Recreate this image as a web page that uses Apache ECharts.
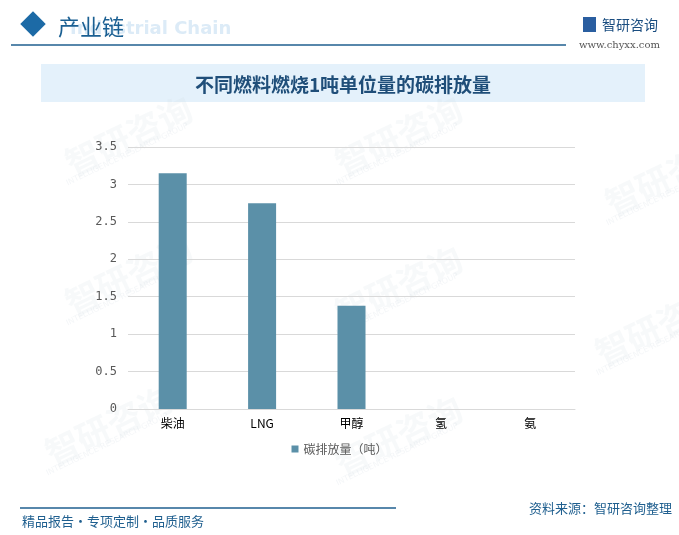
<!DOCTYPE html>
<html><head><meta charset="utf-8">
<script src="https://cdn.jsdelivr.net/npm/echarts@6/dist/echarts.min.js"></script>
<style>html,body{margin:0;padding:0;background:#fff}#c{width:679px;height:535px}</style>
</head><body><div id="c"></div>
<script>
var categories = ['柴油', 'LNG', '甲醇', '氢', '氨'];
var emissions = [3.15, 2.75, 1.38, 0, 0];
var yTicks = ['0', '0.5', '1', '1.5', '2', '2.5', '3', '3.5'];
var seriesName = '碳排放量（吨）';
var chartTitle = '不同燃料燃烧1吨单位量的碳排放量';

var chart = echarts.init(document.getElementById('c'), null, {renderer: 'canvas'});
var wm = [];
var wmPos = [[60,150],[330,150],[600,190],[60,290],[330,300],[590,340],[40,440],[330,450]];
wmPos.forEach(function(p){
  wm.push({type:'text', x:p[0], y:p[1], rotation: Math.PI/7, z:-1,
    style:{text:'智研咨询', fill:'rgba(205,215,225,0.16)', font:'bold 34px "Noto Sans CJK SC"'}});
  wm.push({type:'text', x:p[0]+5, y:p[1]+30, rotation: Math.PI/7, z:-1,
    style:{text:'INTELLIGENCE RESEARCH GROUP', fill:'rgba(205,215,225,0.22)', font:'8px "DejaVu Sans"'}});
});

var graphics = wm.concat([
  {type:'rect', shape:{x:24, y:15, width:18, height:18}, rotation:Math.PI/4, originX:33, originY:24,
    style:{fill:'#1c6aa6'}},
  {type:'text', x:70, y:29, style:{text:'Industrial Chain', fill:'#dcebf7', font:'bold 18px "DejaVu Sans"', textVerticalAlign:'middle'}},
  {type:'text', x:58, y:27, style:{text:'产业链', fill:'#1a5f92', font:'22px "Noto Sans CJK SC"', textVerticalAlign:'middle'}},
  {type:'line', shape:{x1:11, y1:45, x2:566, y2:45}, style:{stroke:'#1f5f8f', lineWidth:1.5}},
  {type:'rect', shape:{x:583, y:17, width:13, height:15}, style:{fill:'#2a5ea0'}},
  {type:'text', x:602, y:25, style:{text:'智研咨询', fill:'#1a4d80', font:'14px "Noto Sans CJK SC"', textVerticalAlign:'middle'}},
  {type:'text', x:579, y:45, style:{text:'www.chyxx.com', fill:'#555', font:'10px "DejaVu Serif"', textVerticalAlign:'middle'}},
  {type:'rect', shape:{x:41, y:64, width:604, height:38}, style:{fill:'#e4f1fb'}, z:-2},
  {type:'text', x:343, y:85, style:{text:chartTitle, fill:'#1f4e79', font:'bold 19px "Noto Sans CJK SC"', textAlign:'center', textVerticalAlign:'middle'}},
  {type:'line', shape:{x1:20, y1:508, x2:396, y2:508}, style:{stroke:'#1f5f8f', lineWidth:1.5}},
  {type:'text', x:22, y:521, style:{text:'精品报告・专项定制・品质服务', fill:'#1f5f8f', font:'13px "Noto Sans CJK SC"', textVerticalAlign:'middle'}},
  {type:'text', x:672, y:508, style:{text:'资料来源：智研咨询整理', fill:'#1f5f8f', font:'13px "Noto Sans CJK SC"', textAlign:'right', textVerticalAlign:'middle'}}
]);

chart.setOption({
  animation:false,
  backgroundColor:'#fff',
  graphic: graphics,
  grid:{left:128, right:104, top:147, bottom:126},
  legend:{
    data:[seriesName], bottom:75, left:'center', itemWidth:7, itemHeight:7, icon:'rect',
    textStyle:{color:'#595959', fontSize:12, fontFamily:'Noto Sans CJK SC'}
  },
  xAxis:{
    type:'category', data:categories,
    axisLine:{lineStyle:{color:'#d9d9d9'}}, axisTick:{show:false},
    axisLabel:{color:'#000', fontSize:12, fontFamily:'Noto Sans CJK SC', margin:8}
  },
  yAxis:{
    type:'value', min:0, max:3.5, interval:0.5,
    axisLine:{show:false}, axisTick:{show:false},
    splitLine:{lineStyle:{color:'#d9d9d9'}},
    axisLabel:{color:'#595959', fontSize:12, fontFamily:'DejaVu Sans Mono', margin:11,
      formatter:function(v){ var i=Math.round(v/0.5); return yTicks[i]; }}
  },
  series:[{
    name:seriesName, type:'bar', data:emissions, barWidth:28,
    itemStyle:{color:'#5b90a8'}
  }]
});
</script></body></html>
